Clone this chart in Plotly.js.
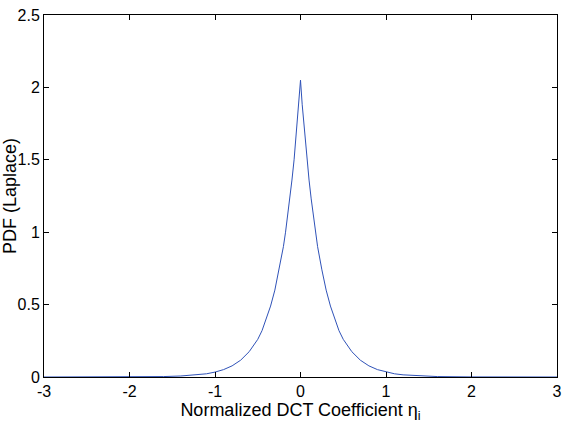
<!DOCTYPE html>
<html>
<head>
<meta charset="utf-8">
<script src="https://cdn.plot.ly/plotly-3.0.1.min.js"></script>
<style>html,body{margin:0;padding:0;background:#fff;}#chart{width:574px;height:434px;}</style>
</head>
<body>
<div id="chart"></div>
<script>
// Values (right half; curve is symmetric)
const etaRight = [0, 0.02, 0.05, 0.075, 0.1, 0.125, 0.15, 0.175, 0.2, 0.25, 0.3, 0.35, 0.4, 0.45, 0.5, 0.6, 0.7, 0.8, 0.9, 1.0, 1.1, 1.2, 1.4, 1.6, 2.0, 2.5, 3.0];
const pdfRight = [2.05, 1.88, 1.67, 1.50, 1.36, 1.23, 1.11, 1.00, 0.90, 0.74, 0.60, 0.49, 0.40, 0.32, 0.26, 0.175, 0.116, 0.077, 0.051, 0.034, 0.022, 0.015, 0.007, 0.003, 0.0006, 0.0001, 0];
const xTicks = [-3, -2, -1, 0, 1, 2, 3];
const yTicks = [0, 0.5, 1, 1.5, 2, 2.5];

const xs = etaRight.slice(1).reverse().map(v => -v).concat(etaRight);
const ys = pdfRight.slice(1).reverse().concat(pdfRight);

const tickFont = {family: 'Liberation Sans, Arial, sans-serif', size: 16, color: '#000'};
const titleFont = {family: 'Liberation Sans, Arial, sans-serif', size: 18, color: '#000'};
const axisCommon = {
  showline: true, linecolor: '#000', linewidth: 1, mirror: 'ticks',
  ticks: 'inside', ticklen: 5, tickcolor: '#000', tickwidth: 1,
  showgrid: false, zeroline: false, tickfont: tickFont
};

Plotly.newPlot('chart', [{
  x: xs, y: ys, type: 'scatter', mode: 'lines',
  line: {color: '#2f52b8', width: 1}
}], {
  width: 574, height: 434,
  margin: {l: 44, r: 17, t: 15, b: 57},
  paper_bgcolor: '#fff', plot_bgcolor: '#fff',
  showlegend: false,
  font: tickFont,
  xaxis: Object.assign({}, axisCommon, {
    range: [-3, 3], tickvals: xTicks, ticktext: xTicks.map(String),
    title: {text: 'Normalized DCT Coefficient η<sub>i</sub>', font: titleFont, standoff: 4}
  }),
  yaxis: Object.assign({}, axisCommon, {
    range: [0, 2.5], tickvals: yTicks, ticktext: yTicks.map(String),
    title: {text: 'PDF (Laplace)', font: titleFont, standoff: 2}
  })
}, {displayModeBar: false, staticPlot: true});
</script>
</body>
</html>
